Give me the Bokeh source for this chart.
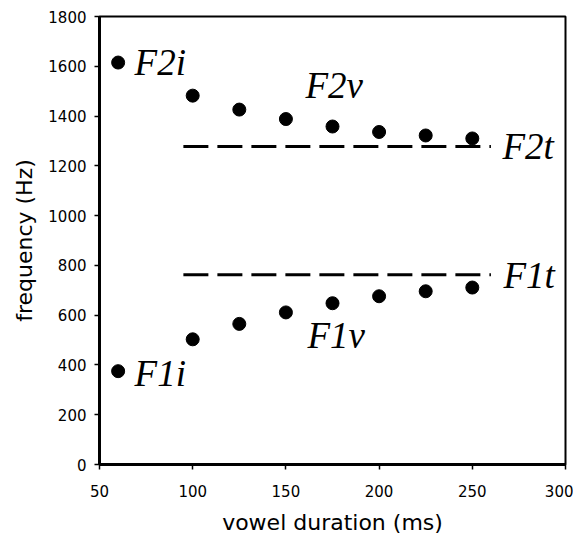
from bokeh.plotting import figure
from bokeh.models import Label, FixedTicker, Range1d
from bokeh.embed import file_html
from bokeh.resources import INLINE

# ---- data ----
durations = [60, 100, 125, 150, 175, 200, 225, 250]
f2_values = [1615, 1482, 1426, 1388, 1358, 1336, 1322, 1310]
f1_values = [375, 503, 565, 611, 648, 676, 696, 711]
target_x = [95, 260]
f2_target = 1278
f1_target = 762
x_ticks = [50, 100, 150, 200, 250, 300]
y_ticks = [0, 200, 400, 600, 800, 1000, 1200, 1400, 1600, 1800]
labels = ["F2i", "F2v", "F2t", "F1i", "F1v", "F1t"]
label_x = [68.8, 160.5, 266.2, 68.8, 161.6, 266.7]
label_y = [1615, 1522, 1277, 365, 518, 759]

p = figure(width=573, height=527, frame_width=466, frame_height=448,
           x_range=Range1d(50, 300), y_range=Range1d(0, 1800),
           output_backend="svg", toolbar_location=None,
           min_border_left=99, min_border_right=8, min_border_top=16, min_border_bottom=63)
p.grid.visible = False
p.outline_line_color = "black"
p.outline_line_width = 2
p.background_fill_color = "white"
p.border_fill_color = "white"

for ax in (p.xaxis[0], p.yaxis[0]):
    ax.axis_line_width = 3
    ax.axis_line_color = "black"
    ax.major_tick_line_width = 1.5
    ax.major_tick_line_color = "black"
    ax.major_tick_out = 5
    ax.major_tick_in = 0
    ax.minor_tick_line_color = None
    ax.major_label_text_font = "DejaVu Sans"
    ax.major_label_text_font_size = "15px"
    ax.major_label_text_color = "black"
    ax.axis_label_text_font = "DejaVu Sans"
    ax.axis_label_text_font_size = "22px"
    ax.axis_label_text_font_style = "normal"
    ax.axis_label_text_color = "black"

p.xaxis.ticker = FixedTicker(ticks=x_ticks)
p.yaxis.ticker = FixedTicker(ticks=y_ticks)
p.xaxis.axis_label = "vowel duration (ms)"
p.yaxis.axis_label = "frequency (Hz)"
p.xaxis.major_label_standoff = 15
p.yaxis.major_label_standoff = 8
p.xaxis.axis_label_standoff = 10
p.yaxis.axis_label_standoff = 8

p.line(target_x, [f2_target, f2_target], line_color="black", line_width=3, line_dash="25 9")
p.line(target_x, [f1_target, f1_target], line_color="black", line_width=3, line_dash="25 9")

p.scatter(durations, f2_values, size=13, color="black")
p.scatter(durations, f1_values, size=13, color="black")

for t, lx, ly in zip(labels, label_x, label_y):
    p.add_layout(Label(x=lx, y=ly, text=t, text_font="Liberation Serif",
                       text_font_style="italic", text_font_size="37px",
                       text_baseline="alphabetic", text_align="left", text_color="black"))

open("out.html", "w").write(file_html(p, INLINE))
